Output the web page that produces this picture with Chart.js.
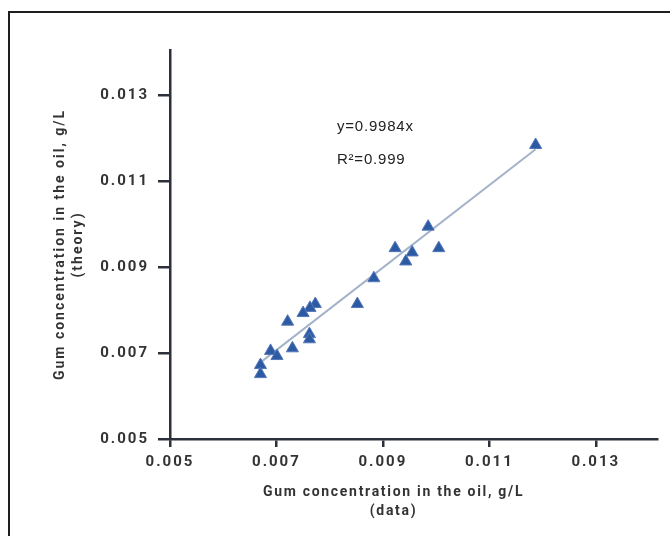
<!DOCTYPE html>
<html>
<head>
<meta charset="utf-8">
<script src="https://cdn.jsdelivr.net/npm/chart.js@4/dist/chart.umd.min.js"></script>
<style>
  html, body { margin: 0; padding: 0; background: #ffffff; }
  #frame { position: absolute; left: 8px; top: 11px; width: 720px; height: 600px; border: 2px solid #1e1e1e; box-sizing: border-box; }
  #wrap { position: absolute; left: 0; top: 0; width: 670px; height: 536px; }
</style>
</head>
<body>
<div id="frame"></div>
<div id="wrap"><canvas id="c" width="670" height="536"></canvas></div>
<script>
// Data
const gumData   = [0.01187, 0.00985, 0.00923, 0.01005, 0.00955, 0.00943, 0.00883, 0.00852, 0.00773, 0.00763, 0.00750, 0.00721, 0.00762, 0.00762, 0.00730, 0.00689, 0.00701, 0.00670, 0.00670];
const gumTheory = [0.01184, 0.00994, 0.00944, 0.00944, 0.00934, 0.00913, 0.00874, 0.00814, 0.00814, 0.00805, 0.00793, 0.00773, 0.00744, 0.00732, 0.00711, 0.00705, 0.00693, 0.00672, 0.00651];
const trendX = [0.00672, 0.01187];
const trendY = [0.00680, 0.01174];
const xTicks = [0.005, 0.007, 0.009, 0.011, 0.013];
const yTicks = [0.005, 0.007, 0.009, 0.011, 0.013];
const xTitle = ['Gum concentration in the oil, g/L', '(data)'];
const yTitle = ['Gum concentration in the oil, g/L', '(theory)'];
const eqText = 'y=0.9984x';
const r2Text = 'R²=0.999';

const axisColor = '#2b303b';
const textColor = '#333333';

const spacingPlugin = {
  id: 'spacing',
  beforeLayout(chart) { chart.ctx.letterSpacing = '2px'; },
  beforeDraw(chart) { chart.ctx.letterSpacing = '2px'; }
};

const annotationPlugin = {
  id: 'annot',
  afterDatasetsDraw(chart) {
    const ctx = chart.ctx;
    const xs = chart.scales.x, ys = chart.scales.y;
    ctx.save();
    ctx.letterSpacing = '0.8px';
    ctx.font = '15px "Liberation Sans", Arial, sans-serif';
    ctx.fillStyle = '#222222';
    ctx.textAlign = 'left';
    ctx.textBaseline = 'middle';
    ctx.fillText(eqText, xs.getPixelForValue(0.008136), ys.getPixelForValue(0.012256));
    ctx.fillText(r2Text, xs.getPixelForValue(0.008136), ys.getPixelForValue(0.011488));
    ctx.restore();
  },
  afterDraw(chart) {
    // x-axis title, centred where the reference centres it
    const ctx = chart.ctx;
    const xs = chart.scales.x;
    ctx.save();
    ctx.letterSpacing = '1.7px';
    ctx.font = 'bold 14px Roboto';
    ctx.fillStyle = textColor;
    ctx.textAlign = 'center';
    ctx.textBaseline = 'middle';
    const cx = xs.getPixelForValue(0.0092);
    const lh = 19;
    xTitle.forEach((t, i) => ctx.fillText(t, cx, xs.top + 53 + i * lh));
    ctx.restore();
  }
};

const tickFont = { family: 'Roboto', weight: 'bold', size: 15, lineHeight: 1.2 };
const titleFont = { family: 'Roboto', weight: 'bold', size: 14, lineHeight: 1.3 };

new Chart(document.getElementById('c'), {
  type: 'scatter',
  data: {
    datasets: [
      {
        label: 'data',
        data: gumData.map((v, i) => ({ x: v, y: gumTheory[i] })),
        pointStyle: 'triangle',
        pointRadius: 7,
        pointHoverRadius: 7,
        backgroundColor: '#2d5ba3',
        borderColor: '#5577b8',
        borderWidth: 1,
        order: 0
      },
      {
        label: 'trend',
        data: trendX.map((v, i) => ({ x: v, y: trendY[i] })),
        showLine: true,
        pointRadius: 0,
        borderColor: '#a3b3c9',
        borderWidth: 2,
        order: 1
      }
    ]
  },
  options: {
    responsive: false,
    animation: false,
    devicePixelRatio: 1,
    layout: { padding: { top: 50, right: 13, left: 51, bottom: 16 } },
    plugins: { legend: { display: false }, tooltip: { enabled: false } },
    scales: {
      x: {
        type: 'linear',
        min: 0.005,
        max: 0.01415,
        afterBuildTicks(s) { s.ticks = xTicks.map(v => ({ value: v })); },
        afterFit(s) { s.height = 81; },
        grid: { display: true, drawOnChartArea: false, drawTicks: true, tickLength: 8, color: axisColor, lineWidth: 2.5 },
        border: { display: true, color: axisColor, width: 2.5 },
        ticks: { font: tickFont, color: textColor, padding: 6, maxRotation: 0, autoSkip: false, callback: v => v.toFixed(3) },
        title: { display: false, text: xTitle }
      },
      y: {
        type: 'linear',
        min: 0.005,
        max: 0.01405,
        afterBuildTicks(s) { s.ticks = yTicks.map(v => ({ value: v })); },
        afterFit(s) { s.width = 119; },
        grid: { display: true, drawOnChartArea: false, drawTicks: true, tickLength: 12, color: axisColor, lineWidth: 2.5 },
        border: { display: true, color: axisColor, width: 2.5 },
        ticks: { font: tickFont, color: textColor, padding: 9, autoSkip: false, callback: v => v.toFixed(3) },
        title: { display: true, text: yTitle, font: titleFont, color: textColor, padding: 0 }
      }
    }
  },
  plugins: [spacingPlugin, annotationPlugin]
});
</script>
</body>
</html>
